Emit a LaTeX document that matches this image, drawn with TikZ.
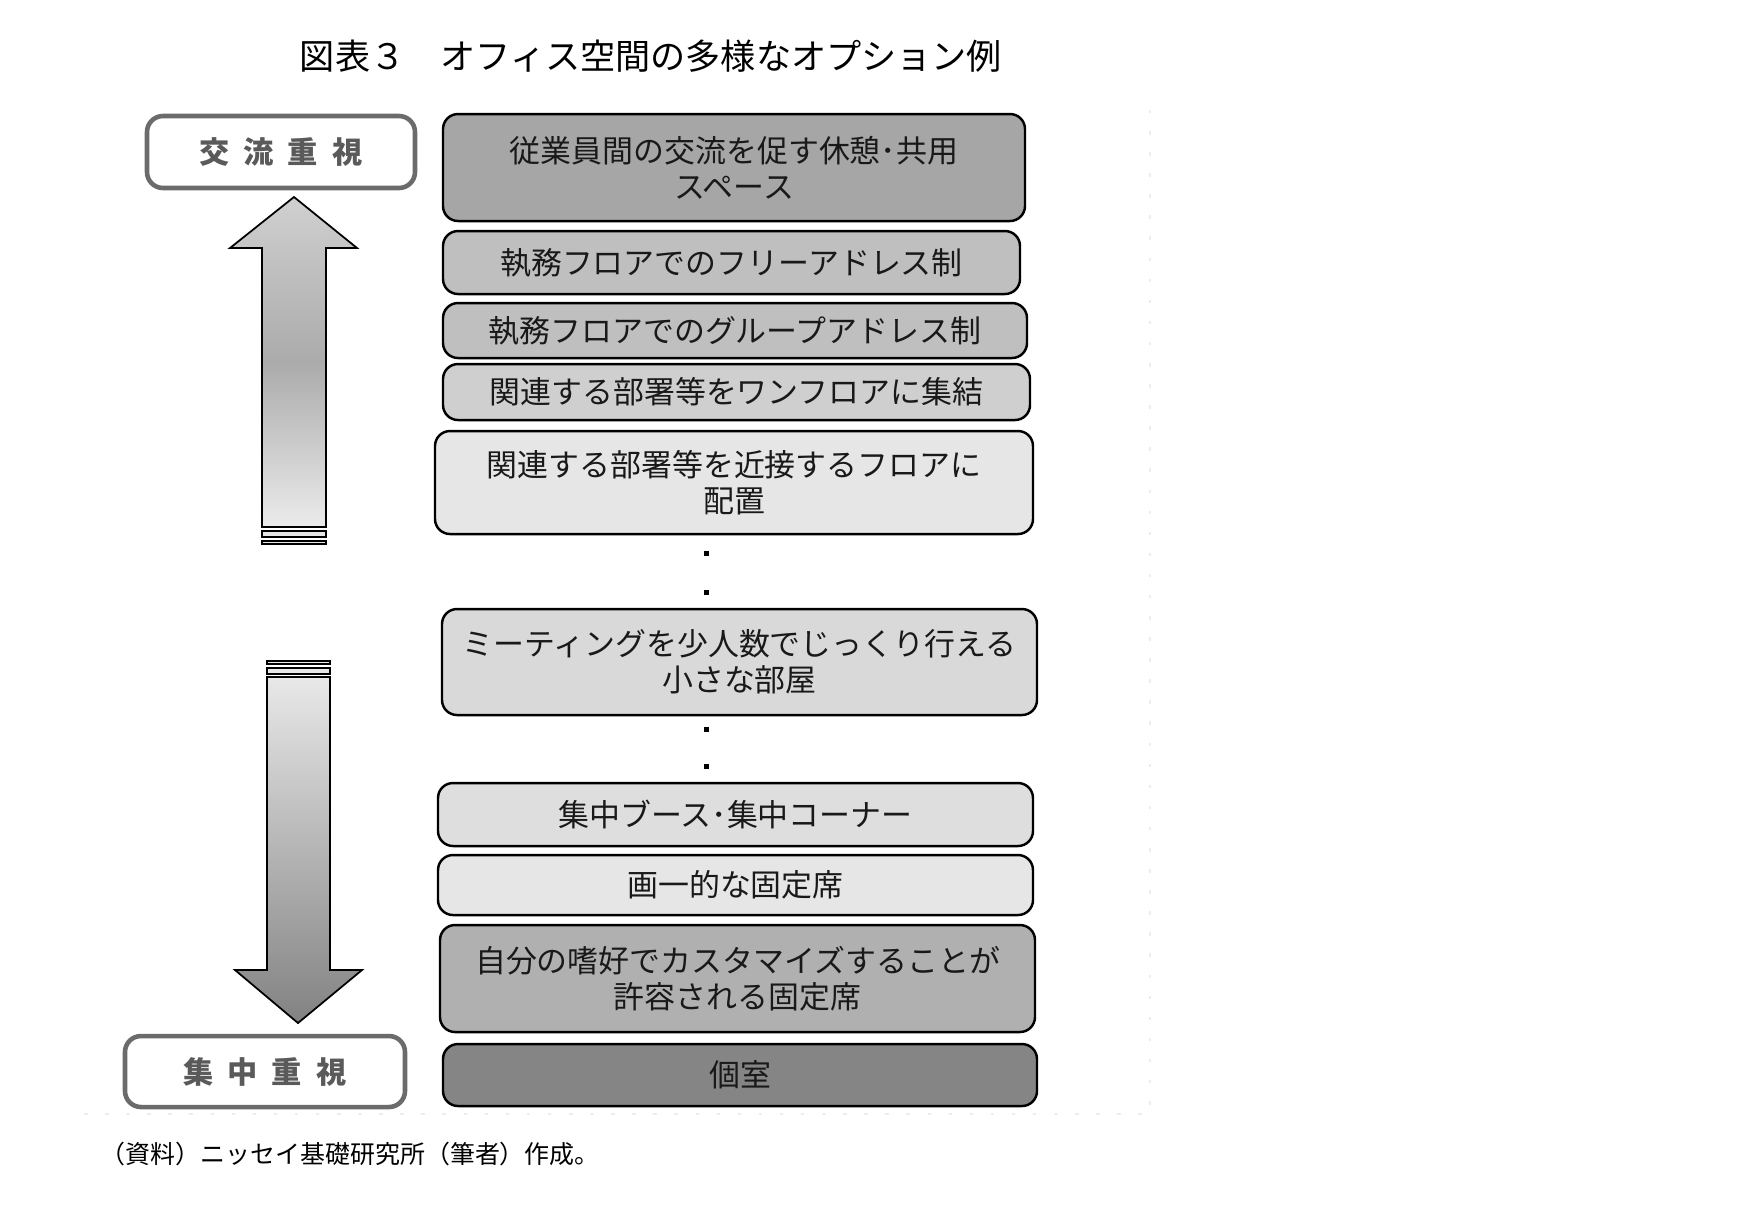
\documentclass[tikz,border=0pt]{standalone}
\usepackage{fontspec}
\newfontfamily\jp{Noto Sans CJK JP}
\usetikzlibrary{positioning}
\definecolor{opGreyA}{HTML}{A6A6A6}
\definecolor{opGreyB}{HTML}{BFBFBF}
\definecolor{opGreyC}{HTML}{CFCFCF}
\definecolor{opGreyD}{HTML}{E6E6E6}
\definecolor{opGreyE}{HTML}{D9D9D9}
\definecolor{opGreyF}{HTML}{DEDEDE}
\definecolor{opGreyG}{HTML}{B0B0B0}
\definecolor{opGreyH}{HTML}{858585}
\definecolor{lblGrey}{HTML}{6B6B6B}
\definecolor{lblText}{HTML}{5A5A5A}
\definecolor{upTop}{HTML}{D0D0D0}
\definecolor{upMid}{HTML}{ABABAB}
\definecolor{upBot}{HTML}{EBEBEB}
\definecolor{dnTop}{HTML}{E8E8E8}
\definecolor{dnBot}{HTML}{828282}
\tikzset{
  optbox/.style    = {draw=black, line width=0.7pt, rounded corners=1.5mm, fill=#1,
                      inner sep=0pt, align=center, text=black!90,
                      font=\jp\fontsize{8.8}{10.2}\selectfont},
  lblbox/.style    = {draw=lblGrey, line width=1.3pt, rounded corners=1.6mm, fill=white,
                      inner sep=0pt, text=lblText, font=\jp\bfseries\fontsize{8.6}{10}\selectfont},
  dotmark/.style   = {rectangle, fill=black, inner sep=0pt, minimum size=0.5mm},
  bigarrow/.style  = {draw=black, line width=0.5pt, line join=miter},
  stripe/.style    = {draw=black, line width=0.5pt, fill=opGreyD},
  titletxt/.style  = {font=\jp\fontsize{10}{12}\selectfont, inner sep=0pt},
  srctxt/.style    = {font=\jp\fontsize{7.1}{8}\selectfont, inner sep=0pt},
  faintline/.style = {black!7, line width=0.4pt, dash pattern=on 1pt off 5pt},
}

\begin{document}
\begin{tikzpicture}[x=0.1mm,y=-0.1mm]
  \useasboundingbox (0,0) rectangle (1751,1204);
  \node[titletxt] (title) at (651,56) {図表３　オフィス空間の多様なオプション例};
  % options
  \node[optbox=opGreyA, minimum width=58.2mm, minimum height=10.7mm] (o1) at (734,167.5) {従業員間の交流を促す休憩･共用\\スペース};
  \node[optbox=opGreyB, minimum width=57.7mm, minimum height=6.3mm] (o2) at (731.5,262.5) {執務フロアでのフリーアドレス制};
  \node[optbox=opGreyB, minimum width=58.4mm, minimum height=5.5mm] (o3) at (735,330.5) {執務フロアでのグループアドレス制};
  \node[optbox=opGreyC, minimum width=58.7mm, minimum height=5.6mm] (o4) at (736.5,392) {関連する部署等をワンフロアに集結};
  \node[optbox=opGreyD, minimum width=59.8mm, minimum height=10.3mm] (o5) at (734,482.5) {関連する部署等を近接するフロアに\\配置};
  \node[optbox=opGreyE, minimum width=59.5mm, minimum height=10.6mm] (o6) at (739.5,662) {ミーティングを少人数でじっくり行える\\小さな部屋};
  \node[optbox=opGreyF, minimum width=59.5mm, minimum height=6.3mm] (o7) at (735.5,814.5) {集中ブース･集中コーナー};
  \node[optbox=opGreyD, minimum width=59.5mm, minimum height=6.0mm] (o8) at (735.5,885) {画一的な固定席};
  \node[optbox=opGreyG, minimum width=59.5mm, minimum height=10.7mm] (o9) at (737.5,978.5) {自分の嗜好でカスタマイズすることが\\許容される固定席};
  \node[optbox=opGreyH, minimum width=59.4mm, minimum height=6.2mm] (o10) at (740,1075) {個室};
  \node[dotmark] (d1) at (706,553) {};
  \node[dotmark] (d2) at (706,592) {};
  \node[dotmark] (d3) at (706,729) {};
  \node[dotmark] (d4) at (706,766) {};
  % left side
  \node[lblbox, minimum width=26.8mm, minimum height=7.2mm] (koryu) at (281,152) {交\kern1.4mm流\kern1.4mm重\kern1.4mm視};
  \node[lblbox, minimum width=28.0mm, minimum height=7.1mm] (shuchu) at (265,1071.5) {集\kern1.4mm中\kern1.4mm重\kern1.4mm視};
  \draw[bigarrow, top color=upTop, bottom color=upBot, middle color=upMid]
    (262,527) -- (262,248) -- (230,248) -- (294,197) -- (357,248) -- (326,248) -- (326,527) -- cycle;
  \draw[stripe] (262,531) rectangle (326,537);
  \draw[stripe] (262,541) rectangle (326,544);
  \draw[stripe] (267,661) rectangle (330,664);
  \draw[stripe] (267,668) rectangle (330,674);
  \draw[bigarrow, top color=dnTop, bottom color=dnBot]
    (267,677) -- (267,970) -- (235,970) -- (298,1023) -- (362,970) -- (330,970) -- (330,677) -- cycle;
  \draw[faintline] (84,1114) -- (1150,1114) -- (1150,100);
  \node[srctxt, anchor=west] (src) at (100,1154) {（資料）ニッセイ基礎研究所（筆者）作成。};
\end{tikzpicture}
\end{document}
